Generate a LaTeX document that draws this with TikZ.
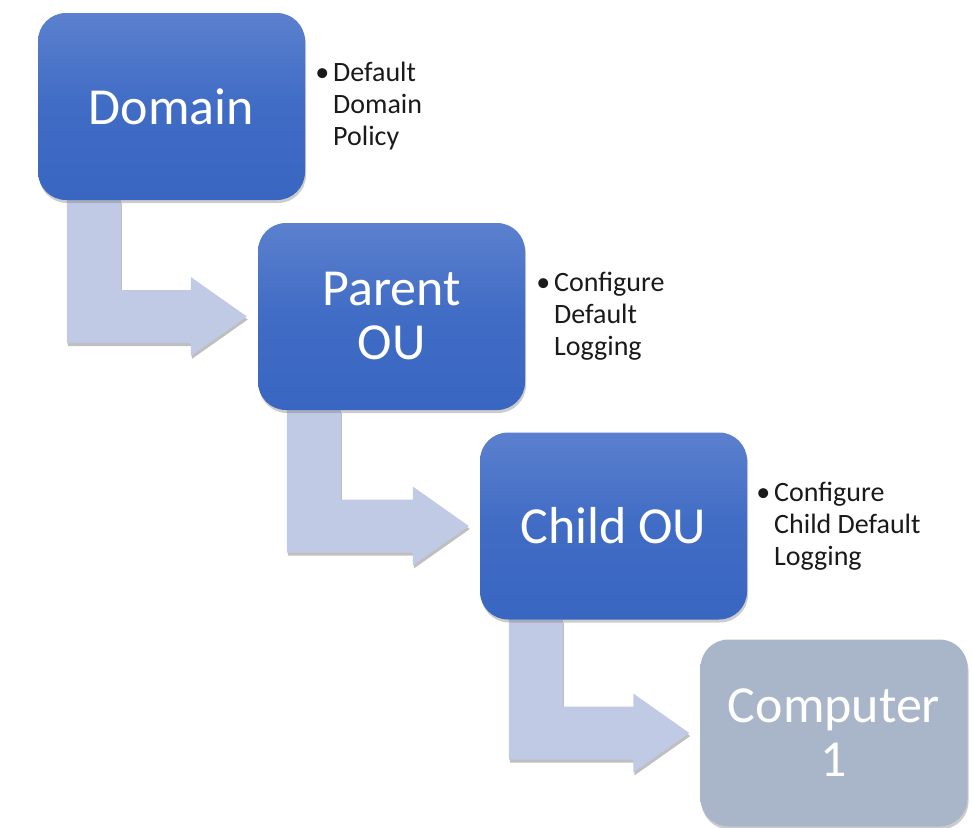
\documentclass[tikz,border=0pt]{standalone}
\usepackage{fontspec}
\setmainfont{Carlito}
\usetikzlibrary{calc,shadows}
\definecolor{boxtop}{HTML}{5B80CE}
\definecolor{boxmid}{HTML}{406CC5}
\definecolor{boxbot}{HTML}{3966C1}
\definecolor{arrowfill}{HTML}{C0CAE4}
\definecolor{compfill}{HTML}{A9B6CA}
\definecolor{bullettext}{HTML}{1A1A1A}
\pgfdeclarelayer{background}
\pgfsetlayers{background,main}
\tikzset{
  levelbox/.style={rectangle, rounded corners=28pt, minimum width=267pt, minimum height=187pt,
    inner sep=0pt, draw=none, top color=boxtop, bottom color=boxbot, middle color=boxmid,
    text=white, align=center,
    font=\fontsize{52}{54}\selectfont,
    drop shadow={shadow xshift=1pt, shadow yshift=-3pt, opacity=0.4}},
  compbox/.style={levelbox, top color=compfill, bottom color=compfill, middle color=compfill},
  notes/.style={anchor=north west, inner sep=0pt, align=left, text=bullettext,
    font=\fontsize{28}{32}\selectfont},
  bentstyle/.style={fill=arrowfill, draw=none,
    drop shadow={shadow xshift=1pt, shadow yshift=-3pt, opacity=0.5}}
}
\newcommand\bentarrow[2]{%
  \fill[bentstyle] let \p1=(#1.south west), \p2=(#2.west) in
    (\x1+29pt,\y1) -- (\x1+83pt,\y1) -- (\x1+83pt,\y2+26.5pt) -- (\x2-67pt,\y2+26.5pt)
    -- (\x2-67pt,\y2+39.5pt) -- (\x2-11pt,\y2) -- (\x2-67pt,\y2-39.5pt)
    -- (\x2-67pt,\y2-26.5pt) -- (\x1+29pt,\y2-26.5pt) -- cycle;}
\newcommand\bul{\llap{\textbullet\hspace{4pt}}}
\begin{document}
\begin{tikzpicture}[x=1pt,y=-1pt]
\useasboundingbox (0,0) rectangle (973,827);
\node[levelbox] (dom) at (171.5,106.5) {Domain};
\node[levelbox] (par) at (391.5,316.5) {Parent\\OU};
\node[levelbox] (chi) at (613.5,526) {Child OU};
\node[compbox] (com) at (834,733) {Computer\\1};
\node[notes] (n1) at (333,62) {\bul Default\\Domain\\Policy};
\node[notes] (n2) at (554,272) {\bul Configure\\Default\\Logging};
\node[notes] (n3) at (774,482) {\bul Configure\\Child Default\\Logging};
\begin{pgfonlayer}{background}
\bentarrow{dom}{par}
\bentarrow{par}{chi}
\bentarrow{chi}{com}
\end{pgfonlayer}
\end{tikzpicture}
\end{document}
